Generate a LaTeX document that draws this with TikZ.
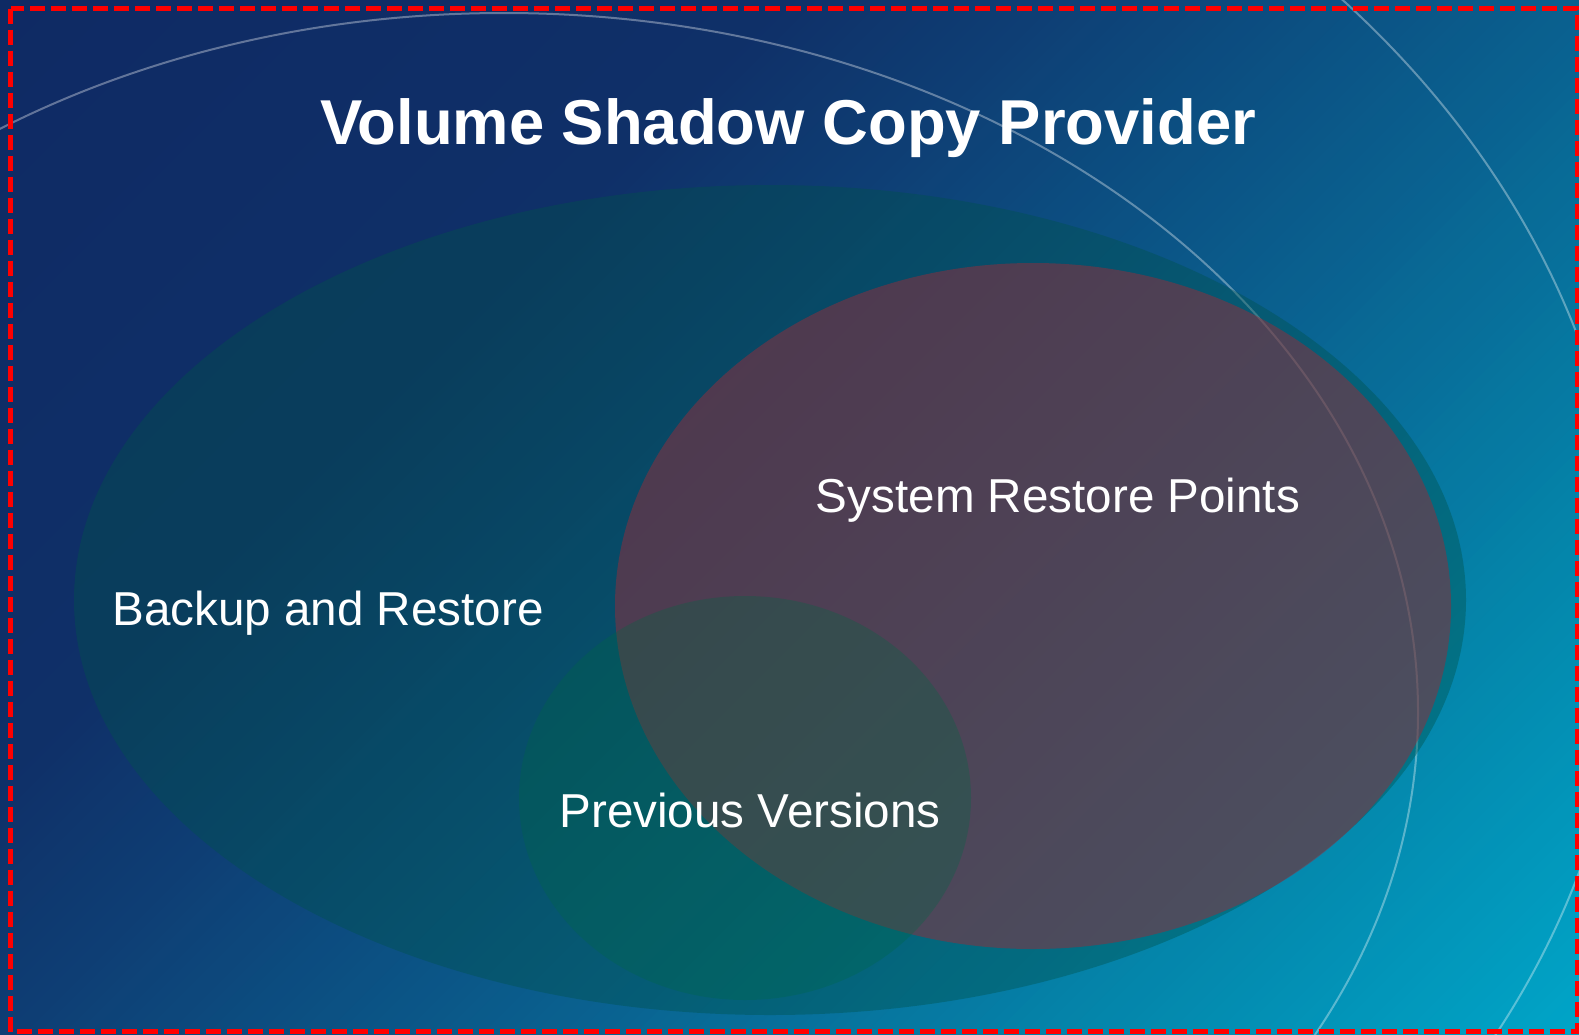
\documentclass[tikz,border=0pt]{standalone}
\usepackage{fontspec}
\setmainfont{Liberation Sans}
\definecolor{bgA}{RGB}{15,42,100}
\definecolor{bgB}{RGB}{15,48,104}
\definecolor{bgC}{RGB}{14,62,116}
\definecolor{bgD}{RGB}{10,95,142}
\definecolor{bgE}{RGB}{4,135,172}
\definecolor{bgF}{RGB}{0,165,200}
\definecolor{setgreen}{RGB}{0,82,75}
\definecolor{setred}{RGB}{150,44,58}
\definecolor{setteal}{RGB}{0,104,67}
\tikzset{
  arcline/.style={white, draw opacity=0.35, line width=2pt},
  setlabel/.style={text=white, inner sep=0pt, anchor=base, font=\fontsize{47.6}{56}\selectfont},
  titletext/.style={text=white, inner sep=0pt, anchor=base, font=\fontsize{63.4}{70}\selectfont\bfseries},
}
\begin{document}
\begin{tikzpicture}[x=1pt,y=-1pt]
    \useasboundingbox (0,0) rectangle (1579,1034);

    % Background, banded along x+y
    \begin{scope}
        \clip (0,0) rectangle (1579,1034);
        \foreach \ua/\ub/\ca/\cb in {0/784/bgA/bgB, 784/1045/bgB/bgC, 1045/1568/bgC/bgD, 1568/2143/bgD/bgE, 2143/2613/bgE/bgF}
            \foreach \k in {0,...,39} {
                \pgfmathsetmacro\du{(\ub-\ua)/40}
                \pgfmathsetmacro\ul{\ua+\du*\k}
                \pgfmathsetmacro\ur{\ul+\du+1.5}
                \pgfmathsetmacro\pc{98.75-2.5*\k}
                \fill[\ca!\pc!\cb] (\ul,0) -- (\ur,0) -- (\ur-1100,1100) -- (\ul-1100,1100) -- cycle;
            }
        % Faint arcs
        \draw[arcline] (504,712) ellipse [x radius=914, y radius=699];
        \draw[arcline] (490,606) ellipse [x radius=1138, y radius=915];
    \end{scope}

    % Sets
    \fill[setgreen, fill opacity=0.4] (770,600) ellipse [x radius=696, y radius=415];
    \fill[setred, fill opacity=0.5] (1033,606) ellipse [x radius=418, y radius=343];
    \fill[setteal, fill opacity=0.3] (745,798) ellipse [x radius=226, y radius=202];

    % Labels
    \node[titletext] (title) at (788,144) {Volume Shadow Copy Provider};
    \node[setlabel] (backup) at (328,625) {Backup and Restore};
    \node[setlabel] (restore) at (1058,512) {System Restore Points};
    \node[setlabel] (versions) at (750,827) {Previous Versions};

    % Frame
    \draw[red, line width=5pt, dash pattern=on 15pt off 6pt] (10.5,8.5) rectangle (1577,1031.5);
\end{tikzpicture}
\end{document}
